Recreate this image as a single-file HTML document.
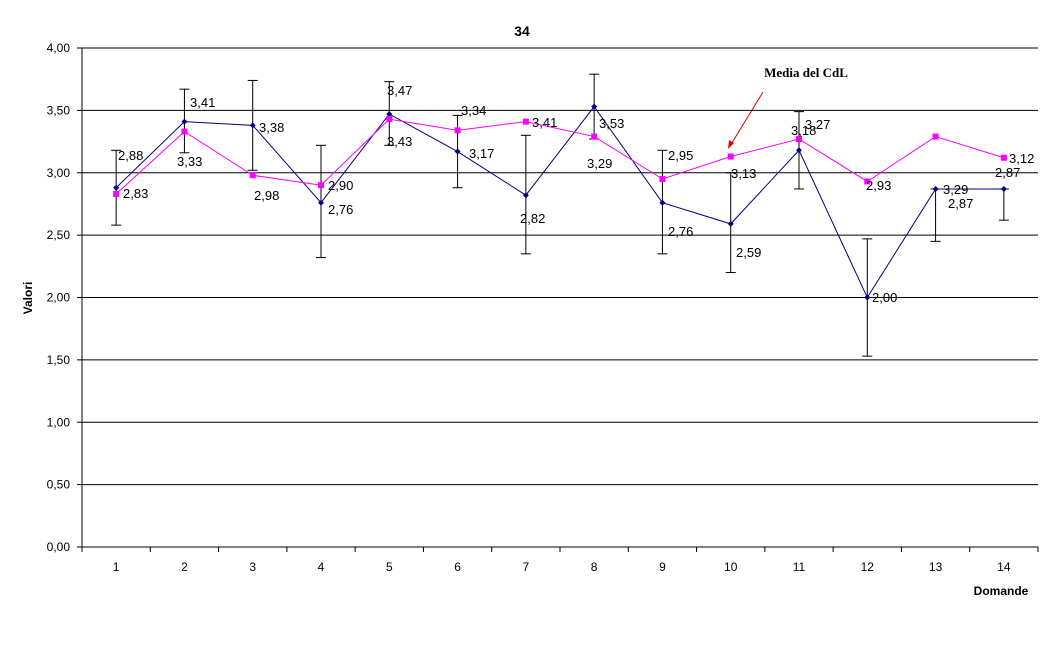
<!DOCTYPE html>
<html><head><meta charset="utf-8"><style>body{margin:0;background:#fff}svg{display:block}text{font-family:"Liberation Sans",Arial,sans-serif}</style></head>
<body>
<svg id="s" width="1046" height="646" xmlns="http://www.w3.org/2000/svg">
<text x="522" y="36" font-size="14" font-weight="bold" text-anchor="middle">34</text>
<text transform="translate(32,298) rotate(-90)" font-size="12" font-weight="bold" text-anchor="middle">Valori</text>
<text x="1001" y="595" font-size="12" font-weight="bold" text-anchor="middle">Domande</text>
<text x="806" y="77" font-size="13" font-weight="bold" text-anchor="middle" style="font-family:'Liberation Serif',serif">Media del CdL</text>
<line x1="763" y1="92" x2="730" y2="146" stroke="#e00000" stroke-width="1"/>
<polygon points="728,149 729,140 734,143" fill="#e00000"/>
</svg>
<script>
const s=document.getElementById('s'),NS='http://www.w3.org/2000/svg';
function el(t,a,txt){const e=document.createElementNS(NS,t);for(const k in a)e.setAttribute(k,a[k]);if(txt)e.textContent=txt;s.appendChild(e);return e;}
const X0=82,X1=1038,Y0=547,K=124.75,W=(X1-X0)/14;
const Y=v=>Y0-v*K, X=i=>X0+W*(i+0.5);
for(let g=0;g<=8;g++){const y=Y(g*0.5);el('line',{x1:X0,x2:X1,y1:y,y2:y,stroke:'#000','stroke-width':1});
el('line',{x1:X0-5,x2:X0,y1:y,y2:y,stroke:'#000'});
el('text',{x:70,y:y+4,'font-size':12,'text-anchor':'end'},(g*0.5).toFixed(2).replace('.',','));}
el('line',{x1:X0,x2:X0,y1:Y(4),y2:Y0,stroke:'#000'});
for(let i=0;i<=14;i++){const x=X0+W*i;el('line',{x1:x,x2:x,y1:Y0,y2:Y0+5,stroke:'#000'});}
for(let i=0;i<14;i++)el('text',{x:X(i),y:571,'font-size':12,'text-anchor':'middle'},i+1);
const b=[2.88,3.41,3.38,2.76,3.47,3.17,2.82,3.53,2.76,2.59,3.18,2.00,2.87,2.87];
const p=[2.83,3.33,2.98,2.90,3.43,3.34,3.41,3.29,2.95,3.13,3.27,2.93,3.29,3.12];
const e=[[2.58,3.18],[3.16,3.67],[3.02,3.74],[2.32,3.22],[3.22,3.73],[2.88,3.46],[2.35,3.30],[3.27,3.79],[2.35,3.18],[2.20,3.00],[2.87,3.49],[1.53,2.47],[2.45,2.87],[2.62,2.87]];
e.forEach((r,i)=>{const x=X(i);el('line',{x1:x,x2:x,y1:Y(r[0]),y2:Y(r[1]),stroke:'#000'});
[0,1].forEach(j=>el('line',{x1:x-5,x2:x+5,y1:Y(r[j]),y2:Y(r[j]),stroke:'#000'}));});
el('line',{x1:X(12),x2:X(13),y1:Y(2.87),y2:Y(2.87),stroke:'#000'});
el('polyline',{points:b.map((v,i)=>X(i)+','+Y(v)).join(' '),fill:'none',stroke:'#000080'});
el('polyline',{points:p.map((v,i)=>X(i)+','+Y(v)).join(' '),fill:'none',stroke:'#ff00ff'});
b.forEach((v,i)=>el('polygon',{points:`${X(i)},${Y(v)-3} ${X(i)+3},${Y(v)} ${X(i)},${Y(v)+3} ${X(i)-3},${Y(v)}`,fill:'#000080'}));
p.forEach((v,i)=>el('rect',{x:X(i)-3,y:Y(v)-3,width:6,height:6,fill:'#ff00ff'}));
const L=[["2,88",118,155],["2,83",123,193],["3,41",190,102],["3,33",177,161],["3,38",259,127],["2,98",254,195],["2,90",328,185],["2,76",328,209],["3,47",387,90],["3,43",387,141],["3,34",461,110],["3,17",469,153],["3,41",532,122],["2,82",520,218],["3,53",599,123],["3,29",587,163],["2,95",668,155],["2,76",668,231],["3,13",731,173],["2,59",736,252],["3,27",805,124],["3,18",791,130],["2,93",866,185],["2,00",872,297],["3,29",943,189],["2,87",948,203],["2,87",995,172],["3,12",1009,158]];
L.forEach(l=>el('text',{x:l[1],y:l[2]+5,'font-size':13},l[0]));
</script>
</body></html>
